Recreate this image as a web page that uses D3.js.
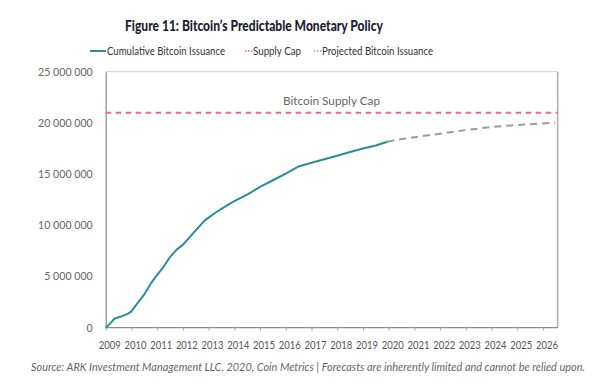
<!DOCTYPE html>
<html><head><meta charset="utf-8">
<script src="https://cdn.jsdelivr.net/npm/d3@7"></script>
<style>
body{margin:0;background:#fff;}
svg{display:block;font-family:Lato,"Open Sans",sans-serif;}
</style></head>
<body>
<svg id="chart" width="605" height="392"></svg>
<script>
// Data (decimal years, BTC)
const actualYears  = [2009.0,2009.15,2009.35,2009.6,2009.85,2010.0,2010.25,2010.5,2010.75,2011.0,2011.25,2011.5,2011.75,2012.0,2012.25,2012.5,2012.86,2013.0,2013.25,2013.5,2013.75,2014.0,2014.5,2015.0,2015.5,2016.0,2016.5,2017.0,2017.5,2018.0,2018.5,2019.0,2019.5,2019.95];
const actualValues = [0,350000,900000,1100000,1350000,1600000,2450000,3250000,4300000,5150000,5950000,6900000,7600000,8100000,8800000,9500000,10500000,10750000,11200000,11600000,12000000,12350000,13000000,13750000,14400000,15050000,15750000,16100000,16450000,16800000,17150000,17500000,17800000,18160000];
const projYears  = [2019.95,2020.43,2021.0,2022.0,2023.0,2024.0,2025.0,2026.47];
const projValues = [18160000,18400000,18600000,18950000,19300000,19600000,19800000,20020000];
const supplyCap = 21000000;
const xTickYears = [2009,2010,2011,2012,2013,2014,2015,2016,2017,2018,2019,2020,2021,2022,2023,2024,2025,2026];
const yTicks = [0,5000000,10000000,15000000,20000000,25000000];
const legendLabels = ["Cumulative Bitcoin Issuance","Supply Cap","Projected Bitcoin Issuance"];

const svg = d3.select("#chart");
const L = 105.7, R = 557.7, T = 71.7, B = 327.7;
const x = d3.scaleLinear().domain([2009, 2026.57]).range([L, R]);
const y = d3.scaleLinear().domain([0, 25000000]).range([B, T]);

// Title
svg.append("text").attr("x", 125).attr("y", 31)
  .attr("font-size", 15.5).attr("font-weight", 900).attr("fill", "#1b1d33")
  .attr("textLength", 258).attr("lengthAdjust", "spacingAndGlyphs")
  .text("Figure 11: Bitcoin\u2019s Predictable Monetary Policy");

// Legend
const lg = svg.append("g").attr("font-size", 12).attr("fill", "#333");
lg.append("line").attr("x1",90).attr("x2",106).attr("y1",51).attr("y2",51).attr("stroke","#2b8c9b").attr("stroke-width",2);
lg.append("text").attr("x",107).attr("y",55).attr("textLength",118).attr("lengthAdjust","spacingAndGlyphs").text(legendLabels[0]);
lg.append("line").attr("x1",245).attr("x2",253).attr("y1",51).attr("y2",51).attr("stroke","#ff6384").attr("stroke-width",1.5).attr("stroke-dasharray","1.5,1.5");
lg.append("text").attr("x",253).attr("y",55).attr("textLength",48).attr("lengthAdjust","spacingAndGlyphs").text(legendLabels[1]);
lg.append("line").attr("x1",314).attr("x2",322).attr("y1",51).attr("y2",51).attr("stroke","#999").attr("stroke-width",1.5).attr("stroke-dasharray","1.5,1.5");
lg.append("text").attr("x",322).attr("y",55).attr("textLength",111).attr("lengthAdjust","spacingAndGlyphs").text(legendLabels[2]);

// Frame top/right
svg.append("line").attr("x1",L).attr("x2",R).attr("y1",T).attr("y2",T).attr("stroke","#d0d0d0").attr("stroke-width",1);
svg.append("line").attr("x1",R).attr("x2",R).attr("y1",T).attr("y2",B).attr("stroke","#b0b0b0").attr("stroke-width",1.6);

// Y axis
const fmt = d => d3.format(",")(d).replace(/,/g, " ");
const yAxis = svg.append("g").attr("transform",`translate(${L},0)`)
  .call(d3.axisLeft(y).tickValues(yTicks).tickFormat(fmt).tickSize(0).tickPadding(13));
yAxis.select(".domain").attr("stroke","#8a8a8a").attr("stroke-width",1.2);
yAxis.selectAll("text").attr("font-size",10.6).attr("fill","#666").attr("font-family","Lato,'Open Sans',sans-serif");

// X axis
const xAxis = svg.append("g").attr("transform",`translate(0,${B})`)
  .call(d3.axisBottom(x).tickValues(xTickYears).tickFormat(d3.format("d")).tickSize(3).tickPadding(11));
xAxis.select(".domain").attr("stroke","#8a8a8a").attr("stroke-width",1.2).attr("d",`M${L},0H${R}`);
xAxis.selectAll(".tick line").attr("stroke","#aaa");
xAxis.selectAll("text").attr("font-size",11).attr("fill","#555").attr("dx",3.5)
  .attr("textLength",22).attr("lengthAdjust","spacingAndGlyphs").attr("font-family","Lato,'Open Sans',sans-serif");

// Supply cap line
svg.append("line").attr("x1",L).attr("x2",R).attr("y1",y(supplyCap)).attr("y2",y(supplyCap))
  .attr("stroke","#ff6384").attr("stroke-width",2).attr("stroke-dasharray","5.5,4.5");
svg.append("text").attr("x",283).attr("y",105).attr("font-size",12).attr("fill","#666")
  .attr("textLength",97).attr("lengthAdjust","spacingAndGlyphs").text("Bitcoin Supply Cap");

const line = d3.line().x(d => x(d[0])).y(d => y(d[1]));
// Projected
svg.append("path").datum(d3.zip(projYears, projValues)).attr("d", line)
  .attr("fill","none").attr("stroke","#9a9a9a").attr("stroke-width",2).attr("stroke-dasharray","7,5");
// Actual
svg.append("path").datum(d3.zip(actualYears, actualValues)).attr("d", line)
  .attr("fill","none").attr("stroke","#2b8c9b").attr("stroke-width",2).attr("stroke-linejoin","round");

// Source
svg.append("text").attr("x",31).attr("y",371)
  .attr("font-size",10.5).attr("font-style","italic").attr("fill","#666")
  .attr("textLength",554).attr("lengthAdjust","spacingAndGlyphs")
  .text("Source: ARK Investment Management LLC, 2020, Coin Metrics | Forecasts are inherently limited and cannot be relied upon.");
</script>
</body></html>
